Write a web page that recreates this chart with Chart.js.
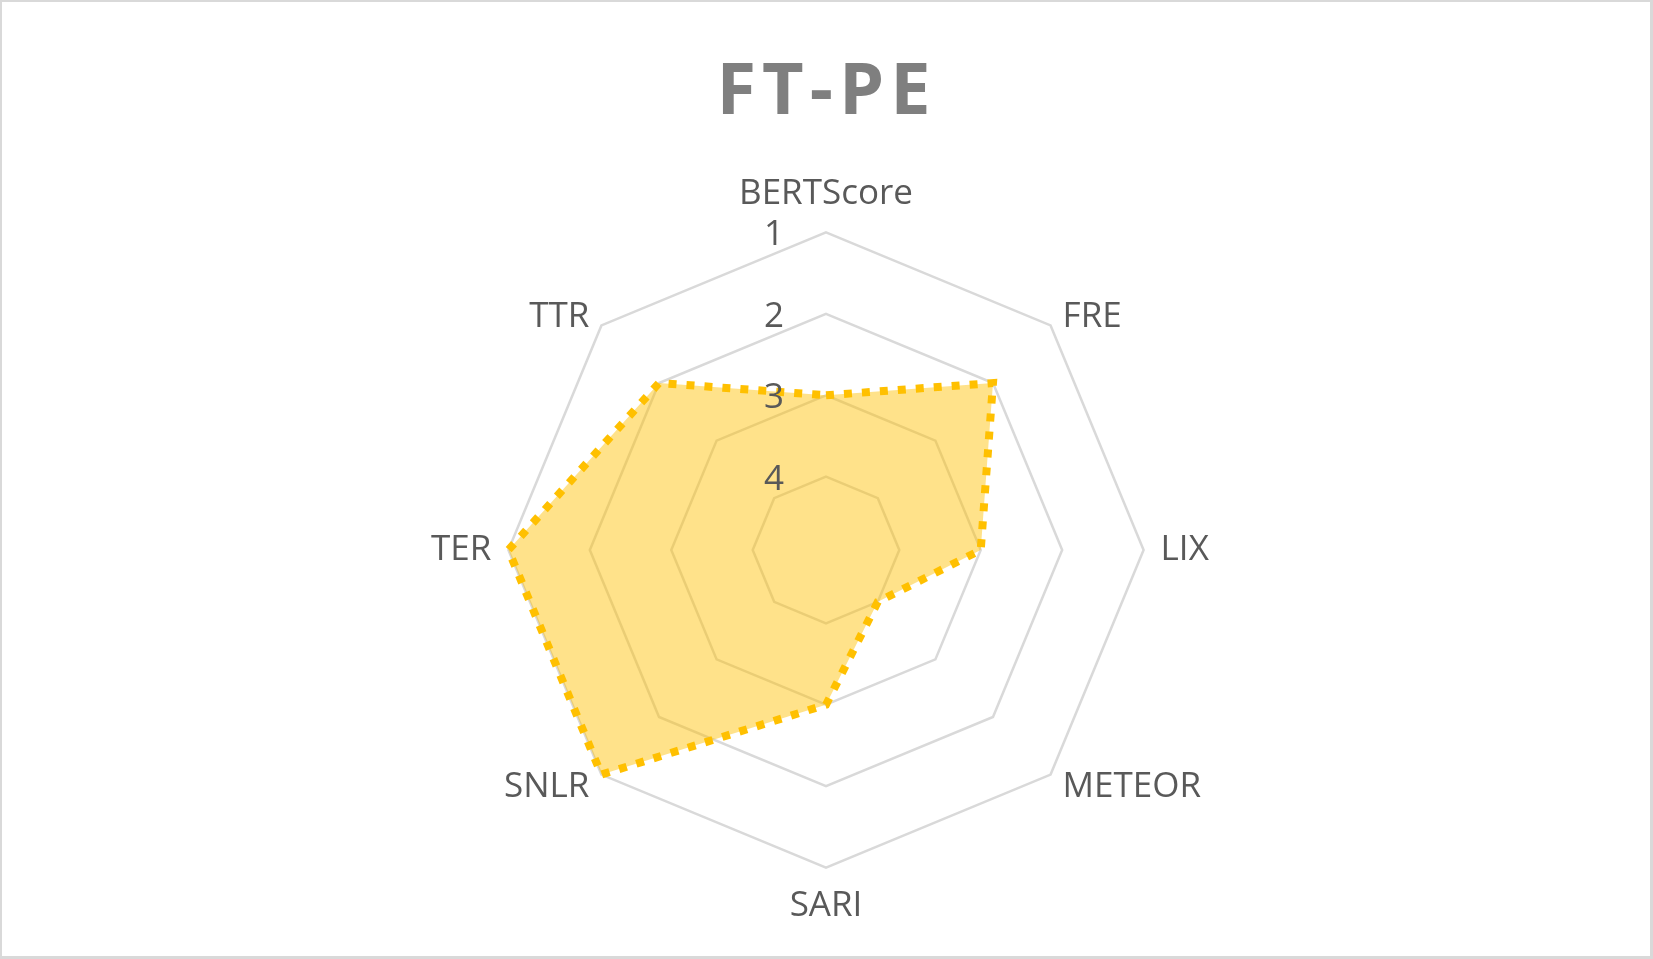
<!DOCTYPE html>
<html>
<head>
<meta charset="utf-8">
<script src="https://cdn.jsdelivr.net/npm/chart.js@4.4.1/dist/chart.umd.min.js"></script>
<style>
  body { margin: 0; background: #fff; }
  canvas { display: block; }
</style>
</head>
<body>
<canvas id="myChart" width="1653" height="959"></canvas>
<script>
const CATEGORIES = ['BERTScore', 'FRE', 'LIX', 'METEOR', 'SARI', 'SNLR', 'TER', 'TTR'];
const FT_PE_VALUES = [3, 2, 3, 4, 3, 1, 1, 2];
const TICK_VALUES = [1, 2, 3, 4];
const AXIS_MIN = 1;
const AXIS_MAX = 4.9;

const LABEL_COLOR = '#595959';
const GRID_COLOR = '#d9d9d9';

// light grey frame round the whole chart, like the Excel chart area
const framePlugin = {
    id: 'frame',
    beforeDraw(chart) {
        const ctx = chart.ctx;
        ctx.save();
        ctx.fillStyle = '#ffffff';
        ctx.fillRect(0, 0, chart.width, chart.height);
        ctx.fillStyle = GRID_COLOR;
        ctx.fillRect(0, 0, chart.width, 2);
        ctx.fillRect(0, 0, 2, chart.height);
        ctx.fillRect(chart.width - 3, 0, 3, chart.height);
        ctx.fillRect(0, chart.height - 3, chart.width, 3);
        ctx.restore();
    }
};

// Excel puts the diagonal category labels centred on the spoke, not above/below it
// also spreads the title letters a bit
const layoutTweaks = {
    id: 'layoutTweaks',
    afterLayout(chart) {
        const scale = chart.scales.r;
        const items = scale._pointLabelItems || [];
        items.forEach((item, i) => {
            const deg = Math.round(scale.getIndexAngle(i) * 180 / Math.PI) % 360;
            if (deg % 90 === 0) return;
            const h = item.bottom - item.top;
            const shift = (deg < 90 || deg > 270) ? h / 2 + 4 : -h / 2;
            item.y += shift;
            item.top += shift;
            item.bottom += shift;
        });

        const tb = chart.titleBlock;
        if (tb && !tb._spaced) {
            const origDraw = tb.draw.bind(tb);
            tb.draw = function () {
                chart.ctx.save();
                chart.ctx.letterSpacing = '6px';
                origDraw();
                chart.ctx.restore();
            };
            tb._spaced = true;
        }
    }
};

// axis numbers sit to the left of the vertical spoke
const tickLabels = {
    id: 'tickLabels',
    afterDraw(chart) {
        const scale = chart.scales.r;
        const ctx = chart.ctx;
        ctx.save();
        ctx.font = '35px "Open Sans"';
        ctx.fillStyle = LABEL_COLOR;
        ctx.textAlign = 'center';
        ctx.textBaseline = 'alphabetic';
        TICK_VALUES.forEach(v => {
            const r = scale.getDistanceFromCenterForValue(v);
            ctx.fillText(String(v), scale.xCenter - 52, scale.yCenter - r + 13);
        });
        ctx.restore();
    }
};

const ctx = document.getElementById('myChart');

new Chart(ctx, {
    type: 'radar',
    data: {
        labels: CATEGORIES,
        datasets: [{
            label: 'FT-PE',
            data: FT_PE_VALUES,
            backgroundColor: 'rgba(255, 192, 0, 0.46)',
            borderColor: '#ffc000',
            borderWidth: 8,
            borderDash: [8, 10],
            borderJoinStyle: 'miter',
            pointRadius: 0,
            pointHoverRadius: 0,
            tension: 0,
            // axis is reversed, so the centre of the web is the scale's max
            fill: { value: AXIS_MAX }
        }]
    },
    options: {
        responsive: false,
        devicePixelRatio: 1,
        animation: false,
        layout: {
            padding: { top: 0, bottom: 31, left: 0, right: 0 }
        },
        plugins: {
            legend: { display: false },
            tooltip: { enabled: false },
            title: {
                display: true,
                text: 'FT-PE',
                color: '#7f7f7f',
                font: { family: 'Open Sans', size: 72, weight: 'bold', lineHeight: 1.2 },
                padding: { top: 50, bottom: 37 }
            }
        },
        scales: {
            r: {
                min: AXIS_MIN,
                max: AXIS_MAX,
                reverse: true,
                afterBuildTicks(scale) {
                    // first tick is skipped by the ring drawing, so put the centre value there
                    scale.ticks = [{ value: AXIS_MAX }].concat(
                        TICK_VALUES.slice().reverse().map(v => ({ value: v }))
                    );
                },
                ticks: { display: false },
                angleLines: { display: false },
                grid: { color: GRID_COLOR, lineWidth: 2.5 },
                pointLabels: {
                    color: LABEL_COLOR,
                    padding: 17,
                    font: { family: 'Open Sans', size: 35, lineHeight: 1.2 }
                }
            }
        }
    },
    plugins: [framePlugin, layoutTweaks, tickLabels]
});
</script>
</body>
</html>
